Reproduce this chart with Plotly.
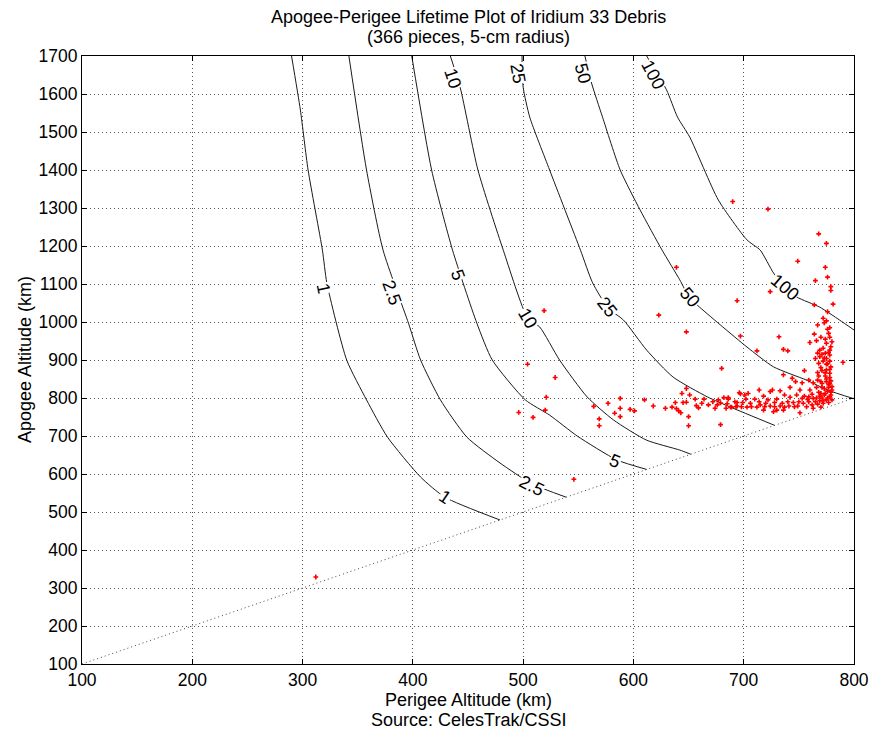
import plotly.graph_objects as go

# ---------------- data ----------------
x_ticks = [100, 200, 300, 400, 500, 600, 700, 800]
y_ticks = [100, 200, 300, 400, 500, 600, 700, 800, 900, 1000, 1100, 1200, 1300, 1400, 1500, 1600, 1700]

# lifetime contours (years): perigee (x) / apogee (y) in km
c1_x = [290, 298, 305, 318, 322, 340, 358, 377, 407, 429, 479]
c1_y = [1700, 1558, 1400, 1189, 1103, 900, 795, 697, 592, 539, 479]
c2_5_x = [342, 358, 373, 396, 407, 425, 449, 479, 508, 539]
c2_5_y = [1700, 1400, 1189, 997, 900, 795, 697, 629, 574, 539]
c5_x = [399, 417, 436, 458, 472, 502, 524, 549, 585, 612]
c5_y = [1700, 1400, 1189, 997, 900, 795, 755, 700, 637, 612]
c10_x = [434, 443, 459, 482, 504, 515, 533, 558, 582, 612, 642, 652]
c10_y = [1700, 1616, 1400, 1189, 1011, 987, 900, 803, 742, 689, 663, 652]
c25_x = [499, 500, 506, 524, 552, 563, 577, 591, 612, 636, 667, 688, 728]
c25_y = [1700, 1618, 1539, 1400, 1189, 1103, 1037, 1005, 926, 855, 803, 776, 728]
c50_x = [556, 562, 572, 588, 606, 626, 642, 651, 660, 681, 703, 727, 757, 776, 800]
c50_y = [1700, 1629, 1539, 1400, 1295, 1189, 1111, 1063, 1039, 987, 934, 882, 847, 821, 798]
c100_x = [612, 630, 640, 651, 677, 703, 715, 727, 736, 748, 769, 787, 800]
c100_y = [1700, 1611, 1539, 1487, 1321, 1216, 1189, 1129, 1097, 1066, 1039, 1005, 979]

# contour label texts, positions and angles
lab_text = ["1", "2.5", "5", "10", "25", "50", "100",
            "1", "2.5", "5",
            "10", "25", "50", "100"]
lab_x = [319, 381, 441, 504, 576, 651, 737,
         429, 508, 583,
         436, 495, 554, 618]
lab_y = [1090, 1076, 1124, 1011, 1039, 1066, 1092,
         539, 568, 634,
         1642, 1655, 1655, 1650]
lab_angle = [78, 70, 70, 60, 52, 50, 40,
             34, 27, 22,
             72, 80, 75, 62]

# line of perigee = apogee
diag_x = [100, 800]
diag_y = [100, 800]

# debris pieces: perigee / apogee (km)
deb_perigee = [
    312, 546, 690, 722, 639, 623, 648, 694, 697, 724, 680, 519, 504, 529, 521, 496, 509, 520,
    564, 569, 569, 577, 583, 588, 588, 588, 597, 601, 610, 618, 629, 635, 638, 639, 641, 643,
    644, 648, 648, 645, 651, 650, 650, 656, 659, 664, 674, 676, 679, 677, 682, 686, 684, 686,
    688, 693, 694, 696,
    768, 775, 749, 774, 765, 776, 779, 779, 764, 781, 776, 732, 712, 736, 740, 767, 773, 775,
    776, 777, 764, 760, 766, 778, 780, 775, 772, 769, 778, 767, 774, 778, 769, 765, 775, 772,
    778, 768, 775, 790, 755, 767, 771, 775, 778, 768, 774, 778, 736, 744, 747, 753, 759, 763,
    767, 770, 775, 778, 742, 751, 760, 766, 771, 777, 780, 724, 726, 733, 714, 697, 701, 704,
    702, 710, 718, 722, 730, 737, 742, 748, 753, 759, 763, 769, 773, 778, 780, 775, 769, 765,
    759, 754, 749, 746, 741, 737, 733, 728, 724, 719, 715, 712, 707, 703, 698, 694, 689, 757,
    762, 767, 772, 777, 763, 770, 751, 730, 736, 718, 727,
    771, 774, 776, 779, 772, 776, 779, 770, 777, 773, 780, 768, 775, 779, 771, 778, 774, 770,
    776, 779, 773, 777, 771, 779, 774, 770, 778, 772, 766, 762, 758, 755, 750, 745, 740, 735,
    728, 720, 714, 706, 699, 692, 685, 679, 672, 668, 662, 657,
]
deb_apogee = [
    329, 586, 1317, 1297, 1144, 1018, 974, 1056, 963, 1080, 878, 1030, 889, 854, 802, 762, 749, 768,
    778, 745, 727, 786, 760, 799, 773, 751, 770, 766, 795, 779, 773, 776, 788, 772, 766, 761,
    812, 825, 789, 788, 808, 751, 727, 797, 774, 797, 773, 782, 730, 795, 801, 801, 773, 797,
    776, 777, 788, 814,
    1232, 1207, 1160, 1144, 1109, 1118, 1093, 1083, 1045, 1047, 1027, 961, 924, 928, 924, 992, 998, 1003,
    981, 970, 968, 946, 951, 960, 948, 944, 931, 926, 926, 918, 918, 913, 909, 904, 904, 897,
    897, 891, 889, 894, 872, 867, 872, 874, 865, 858, 858, 854, 861, 852, 843, 840, 847, 840,
    847, 843, 843, 839, 828, 821, 821, 828, 828, 828, 821, 817, 821, 819, 821, 811, 808, 812,
    797, 797, 805, 795, 797, 808, 802, 808, 799, 803, 799, 805, 808, 803, 795, 795, 793, 790,
    790, 786, 779, 777, 779, 776, 779, 777, 779, 777, 782, 776, 777, 776, 777, 779, 776, 777,
    782, 784, 786, 788, 773, 776, 761, 768, 768, 768, 764,
    800, 812, 818, 808, 792, 800, 815, 812, 835, 825, 830, 815, 850, 845, 838, 875, 866, 880,
    890, 882, 905, 920, 915, 935, 955, 960, 985, 1010, 800, 810, 796, 805, 790, 788, 790, 786,
    788, 786, 790, 786, 788, 790, 785, 787, 790, 782, 786, 780,
]

FONT = "Liberation Sans"
TICK_SIZE = 17.5
TEXT_SIZE = 18

fig = go.Figure()

contours = [(c1_x, c1_y), (c2_5_x, c2_5_y), (c5_x, c5_y), (c10_x, c10_y),
            (c25_x, c25_y), (c50_x, c50_y), (c100_x, c100_y)]
for cx, cy in contours:
    fig.add_trace(go.Scatter(x=cx, y=cy, mode="lines",
                             line=dict(color="#1a1a1a", width=1, shape="spline", smoothing=0.6),
                             hoverinfo="skip", showlegend=False))

fig.add_trace(go.Scatter(x=diag_x, y=diag_y, mode="lines",
                         line=dict(color="#444", width=1, dash="1px,3px"),
                         hoverinfo="skip", showlegend=False))

fig.add_trace(go.Scatter(x=deb_perigee, y=deb_apogee, mode="markers",
                         marker=dict(symbol="cross", size=4, color="#ff0000",
                                     line=dict(width=0)),
                         showlegend=False))

for t, lx, ly, ang in zip(lab_text, lab_x, lab_y, lab_angle):
    fig.add_annotation(x=lx, y=ly, text=t, showarrow=False, textangle=ang,
                       font=dict(family=FONT, size=TEXT_SIZE, color="black"),
                       bgcolor="white", borderpad=0)

axis_common = dict(showline=True, linecolor="black", linewidth=1, mirror="ticks",
                   ticks="inside", ticklen=5, tickcolor="black",
                   showgrid=True, gridcolor="#555", griddash="1px,3px", gridwidth=1,
                   zeroline=False, automargin=False,
                   tickfont=dict(family=FONT, size=TICK_SIZE, color="black"))

fig.update_layout(
    width=873, height=738,
    margin=dict(l=82, r=19, t=56, b=74, autoexpand=False),
    paper_bgcolor="white", plot_bgcolor="white",
    font=dict(family=FONT, size=TEXT_SIZE, color="black"),
    xaxis=dict(range=[100, 800], tickvals=x_ticks, **axis_common),
    yaxis=dict(range=[100, 1700], tickvals=y_ticks, **axis_common),
    showlegend=False,
)

def paper_text(x, y, text, angle=0):
    fig.add_annotation(x=x, y=y, xref="paper", yref="paper", showarrow=False,
                       xanchor="center", yanchor="middle", text=text, textangle=angle,
                       font=dict(family=FONT, size=TEXT_SIZE, color="black"))

paper_text(0.5, 1.0641, "Apogee-Perigee Lifetime Plot of Iridium 33 Debris")
paper_text(0.5, 1.0313, "(366 pieces, 5-cm radius)")
paper_text(0.5, -0.0592, "Perigee Altitude (km)")
paper_text(0.5, -0.0921, "Source: CelesTrak/CSSI")
paper_text(-0.0738, 0.5, "Apogee Altitude (km)", angle=-90)

fig.write_html("out.html", config={"displayModeBar": False},
               post_script="document.body.style.margin='0';")
